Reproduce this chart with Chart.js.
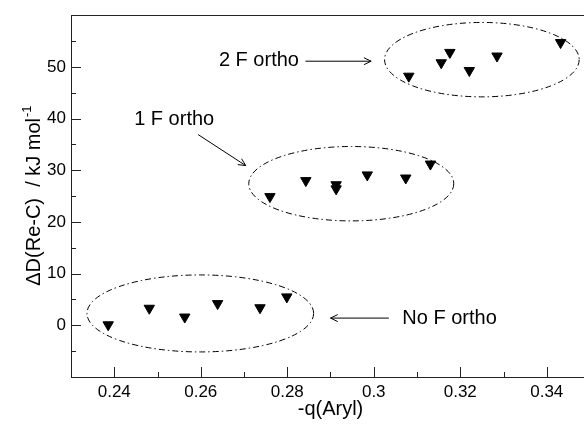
<!DOCTYPE html>
<html>
<head>
<meta charset="utf-8">
<script src="https://cdn.jsdelivr.net/npm/chart.js@4/dist/chart.umd.min.js"></script>
<style>
  html, body { margin: 0; padding: 0; background: #fff; overflow: hidden; }
  #wrap { width: 600px; height: 425px; position: relative; }
</style>
</head>
<body>
<div id="wrap"><canvas id="chart"></canvas></div>
<script>
// data
const noFx = [0.2386, 0.2481, 0.2563, 0.2639, 0.2737, 0.2799];
const noFy = [0.1, 3.3, 1.6, 4.2, 3.4, 5.5];
const oneFx = [0.2760, 0.2843, 0.2913, 0.2913, 0.2985, 0.3074, 0.3131];
const oneFy = [24.9, 28.0, 27.2, 26.4, 29.1, 28.5, 31.2];
const twoFx = [0.3081, 0.3156, 0.3176, 0.3221, 0.3285, 0.3432];
const twoFy = [48.2, 50.8, 52.8, 49.3, 52.1, 54.7];

const xTicks = [0.24, 0.26, 0.28, 0.3, 0.32, 0.34];
const xMinor = [0.25, 0.27, 0.29, 0.31, 0.33];
const yTicks = [0, 10, 20, 30, 40, 50];
const yMinor = [-5, 5, 15, 25, 35, 45, 55];

// annotation groups (data units)
const ellipses = [
  { cx: 0.2599, cy: 2.3, rx: 0.0262, ry: 7.45 },
  { cx: 0.2948, cy: 27.4, rx: 0.0237, ry: 7.2 },
  { cx: 0.3250, cy: 51.4, rx: 0.0225, ry: 7.2 }
];
const labels = [
  { text: '2 F ortho', x: 0.2642, y: 51.2 },
  { text: '1 F ortho', x: 0.2446, y: 39.8 },
  { text: 'No F ortho', x: 0.3066, y: 1.4 }
];
const arrows = [
  { x0: 0.2842, y0: 51.1, x1: 0.2994, y1: 51.1 },
  { x0: 0.2594, y0: 36.9, x1: 0.2704, y1: 30.9 },
  { x0: 0.3035, y0: 1.4, x1: 0.2900, y1: 1.4 }
];

const FONT = '"Liberation Sans", Arial, sans-serif';

function pts(xs, ys) {
  return xs.map((x, i) => ({ x: x, y: ys[i] }));
}

const decor = {
  id: 'decor',
  afterDraw(chart) {
    const ctx = chart.ctx;
    const xs = chart.scales.x;
    const ys = chart.scales.y;
    const a = chart.chartArea;
    ctx.save();

    // top frame line
    ctx.fillStyle = '#222';
    ctx.fillRect(Math.round(a.left), Math.round(a.top), Math.round(a.right - a.left), 1);

    ctx.strokeStyle = '#222';
    ctx.lineWidth = 1;

    // inward ticks
    ctx.beginPath();
    xTicks.forEach(v => {
      const p = Math.round(xs.getPixelForValue(v)) + 0.5;
      ctx.moveTo(p, a.bottom); ctx.lineTo(p, a.bottom - 10);
    });
    xMinor.forEach(v => {
      const p = Math.round(xs.getPixelForValue(v)) + 0.5;
      ctx.moveTo(p, a.bottom); ctx.lineTo(p, a.bottom - 5);
    });
    yTicks.forEach(v => {
      const p = Math.round(ys.getPixelForValue(v)) + 0.5;
      ctx.moveTo(a.left, p); ctx.lineTo(a.left + 10, p);
    });
    yMinor.forEach(v => {
      const p = Math.round(ys.getPixelForValue(v)) + 0.5;
      ctx.moveTo(a.left, p); ctx.lineTo(a.left + 5, p);
    });
    ctx.stroke();

    // dash-dot ellipses
    ctx.strokeStyle = '#000';
    ctx.setLineDash([6, 3, 1.5, 3]);
    ellipses.forEach(e => {
      const cx = xs.getPixelForValue(e.cx);
      const cy = ys.getPixelForValue(e.cy);
      const rx = Math.abs(xs.getPixelForValue(e.cx + e.rx) - cx);
      const ry = Math.abs(ys.getPixelForValue(e.cy + e.ry) - cy);
      ctx.beginPath();
      ctx.ellipse(cx, cy, rx, ry, 0, 0, Math.PI * 2);
      ctx.stroke();
    });
    ctx.setLineDash([]);

    // arrows
    arrows.forEach(r => {
      const x0 = xs.getPixelForValue(r.x0), y0 = ys.getPixelForValue(r.y0);
      const x1 = xs.getPixelForValue(r.x1), y1 = ys.getPixelForValue(r.y1);
      const ang = Math.atan2(y1 - y0, x1 - x0);
      ctx.beginPath();
      ctx.moveTo(x0, y0); ctx.lineTo(x1, y1);
      ctx.moveTo(x1 - 8 * Math.cos(ang - 0.45), y1 - 8 * Math.sin(ang - 0.45));
      ctx.lineTo(x1, y1);
      ctx.lineTo(x1 - 8 * Math.cos(ang + 0.45), y1 - 8 * Math.sin(ang + 0.45));
      ctx.stroke();
    });

    // annotation text
    ctx.fillStyle = '#000';
    ctx.font = '20px ' + FONT;
    ctx.textAlign = 'left';
    ctx.textBaseline = 'middle';
    labels.forEach(l => {
      ctx.fillText(l.text, xs.getPixelForValue(l.x), ys.getPixelForValue(l.y));
    });

    // x title
    ctx.textAlign = 'center';
    ctx.fillText('-q(Aryl)', (a.left + a.right) / 2, 409);

    // y title with superscript
    const main = '\u0394D(Re-C)  / kJ mol';
    const sup = '-1';
    ctx.font = '20px ' + FONT;
    const w1 = ctx.measureText(main).width;
    ctx.font = '13px ' + FONT;
    const w2 = ctx.measureText(sup).width;
    ctx.translate(40, (a.top + a.bottom) / 2);
    ctx.rotate(-Math.PI / 2);
    ctx.textAlign = 'left';
    ctx.textBaseline = 'alphabetic';
    const start = -(w1 + w2) / 2;
    ctx.font = '20px ' + FONT;
    ctx.fillText(main, start, 0);
    ctx.font = '13px ' + FONT;
    ctx.fillText(sup, start + w1 + 1, -9);
    ctx.restore();
  }
};

const marker = {
  showLine: false,
  pointStyle: 'triangle',
  rotation: 180,
  pointRadius: 6,
  pointHoverRadius: 6,
  pointBackgroundColor: '#000',
  pointBorderColor: '#000',
  pointBorderWidth: 1
};

new Chart(document.getElementById('chart'), {
  type: 'scatter',
  data: {
    datasets: [
      Object.assign({ label: 'No F ortho', data: pts(noFx, noFy) }, marker),
      Object.assign({ label: '1 F ortho', data: pts(oneFx, oneFy) }, marker),
      Object.assign({ label: '2 F ortho', data: pts(twoFx, twoFy) }, marker)
    ]
  },
  options: {
    responsive: true,
    maintainAspectRatio: false,
    animation: false,
    layout: { padding: { top: 12, right: 10, left: 0, bottom: 0 } },
    plugins: {
      legend: { display: false },
      tooltip: { enabled: false }
    },
    scales: {
      x: {
        type: 'linear',
        min: 0.23,
        max: 0.35,
        afterBuildTicks: s => { s.ticks = xTicks.map(v => ({ value: v })); },
        afterFit: s => { s.height = 48; },
        grid: { display: false, drawTicks: false },
        border: { display: true, color: '#222', width: 1 },
        ticks: {
          padding: 5,
          color: '#000',
          maxRotation: 0,
          font: { family: FONT, size: 17 },
          callback: v => String(+v.toFixed(2))
        }
      },
      xTop: {
        type: 'linear',
        position: 'top',
        min: 0.23,
        max: 0.35,
        afterFit: s => { s.height = 0; },
        grid: { display: false, drawTicks: false },
        border: { display: true, color: '#222', width: 1 },
        ticks: { display: false }
      },
      y: {
        type: 'linear',
        min: -10,
        max: 60,
        afterBuildTicks: s => { s.ticks = yTicks.map(v => ({ value: v })); },
        afterFit: s => { s.width = 71; },
        grid: { display: false, drawTicks: false },
        border: { display: true, color: '#222', width: 1 },
        ticks: {
          padding: 5,
          color: '#000',
          font: { family: FONT, size: 17 }
        }
      }
    }
  },
  plugins: [decor]
});
</script>
</body>
</html>
